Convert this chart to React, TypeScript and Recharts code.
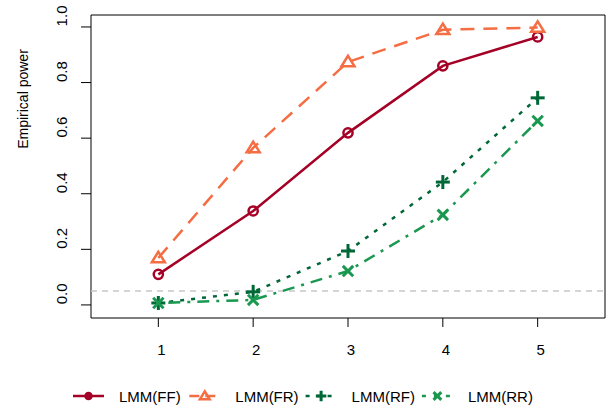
import React from 'react';
import { ComposedChart, Line, XAxis, YAxis, ReferenceLine, ReferenceArea } from 'recharts';

const sampleSizes = [1, 2, 3, 4, 5];
const powerFF = [0.11, 0.338, 0.619, 0.86, 0.964];
const powerFR = [0.169, 0.565, 0.874, 0.99, 0.998];
const powerRF = [0.007, 0.047, 0.194, 0.442, 0.745];
const powerRR = [0.007, 0.018, 0.122, 0.324, 0.662];
const yTicks = [0, 0.2, 0.4, 0.6, 0.8, 1.0];
const xTicks = [1, 2, 3, 4, 5];
const nominalLevel = 0.05;

const seriesNames = ['LMM(FF)', 'LMM(FR)', 'LMM(RF)', 'LMM(RR)'];
const seriesKeys = ['ff', 'fr', 'rf', 'rr'];
const seriesColors = ['#A50026', '#F46D43', '#006837', '#1A9850'];
const seriesDash = ['0', '14 9', '4 7', '3 7 12 7'];
const seriesShapes = ['circle', 'triangle', 'plus', 'cross'];

const data = sampleSizes.map((n, i) => ({
  n,
  ff: powerFF[i],
  fr: powerFR[i],
  rf: powerRF[i],
  rr: powerRR[i],
}));

const FONT = '"Liberation Sans", Arial, Helvetica, sans-serif';

function Marker({ shape, cx, cy, color, size = 1, legend = false }: any) {
  const sw = 2.5;
  if (shape === 'circle') {
    return legend ? (
      <circle cx={cx} cy={cy} r={3.5} fill={color} stroke={color} strokeWidth={1.5} />
    ) : (
      <circle cx={cx} cy={cy} r={4.6 * size} fill="none" stroke={color} strokeWidth={sw} />
    );
  }
  if (shape === 'triangle') {
    const h = 6.2 * size;
    const pts = `${cx},${cy - h} ${cx - h * 1.05},${cy + h * 0.7} ${cx + h * 1.05},${cy + h * 0.7}`;
    return <polygon points={pts} fill="none" stroke={color} strokeWidth={sw} strokeLinejoin="miter" />;
  }
  if (shape === 'plus') {
    const a = 7 * size;
    return (
      <g stroke={color} strokeWidth={sw + 0.5}>
        <line x1={cx - a} y1={cy} x2={cx + a} y2={cy} />
        <line x1={cx} y1={cy - a} x2={cx} y2={cy + a} />
      </g>
    );
  }
  const a = 5.2 * size;
  return (
    <g stroke={color} strokeWidth={sw + 0.5}>
      <line x1={cx - a} y1={cy - a} x2={cx + a} y2={cy + a} />
      <line x1={cx - a} y1={cy + a} x2={cx + a} y2={cy - a} />
    </g>
  );
}

const makeDot = (shape: string, color: string) => (props: any) => {
  const { cx, cy, index } = props;
  if (cx == null || cy == null) return <g key={index} />;
  return <Marker key={index} shape={shape} cx={cx} cy={cy} color={color} />;
};

const XTick = (props: any) => {
  const { x, payload } = props;
  return (
    <text x={x + 3} y={355} textAnchor="middle" fontSize={15} fontFamily={FONT} fill="#000">
      {payload.value}
    </text>
  );
};

const YTick = (props: any) => {
  const { y, payload } = props;
  return (
    <text
      transform={`translate(67, ${y - 11}) rotate(-90)`}
      textAnchor="middle"
      fontSize={15}
      fontFamily={FONT}
      fill="#000"
    >
      {Number(payload.value).toFixed(1)}
    </text>
  );
};

const YLabel = () => (
  <text
    transform={`translate(28, 99) rotate(-90)`}
    textAnchor="middle"
    fontSize={14}
    fontFamily={FONT}
    fill="#000"
  >
    Empirical power
  </text>
);

function LegendRow() {
  return (
    <svg width={606} height={34} style={{ position: 'absolute', left: 0, top: 380 }}>
      {seriesNames.map((name, i) => {
        const x0 = 73 + i * 116.3;
        const y = 16;
        return (
          <g key={name}>
            <line
              x1={x0}
              y1={y}
              x2={x0 + 31}
              y2={y}
              stroke={seriesColors[i]}
              strokeWidth={2.5}
              strokeDasharray={i === 0 ? undefined : i === 1 ? '10 6' : i === 2 ? '4 7' : '4 8'}
            />
            <Marker shape={seriesShapes[i]} cx={x0 + 15.5} cy={y} color={seriesColors[i]} size={0.75} legend />
            <text x={x0 + 46} y={y + 5.5} fontSize={15} fontFamily={FONT} fill="#000">
              {name}
            </text>
          </g>
        );
      })}
    </svg>
  );
}

export default function App() {
  return (
    <div style={{ position: 'absolute', left: 0, top: 0, width: 606, height: 414, background: '#fff' }}>
      <ComposedChart width={606} height={414} data={data} margin={{ top: 15, right: 1, bottom: 0, left: 0 }}>
        <XAxis
          dataKey="n"
          type="number"
          domain={[0.29, 5.71]}
          ticks={xTicks}
          allowDataOverflow
          axisLine={false}
          tickLine={{ stroke: '#000', strokeWidth: 1 }}
          tickSize={9}
          height={96}
          tick={<XTick />}
        />
        <YAxis
          type="number"
          domain={[-0.047, 1.043]}
          ticks={yTicks}
          allowDataOverflow
          axisLine={false}
          tickLine={{ stroke: '#000', strokeWidth: 1 }}
          tickSize={10}
          width={91}
          tick={<YTick />}
          label={<YLabel />}
        />
        <ReferenceArea
          x1={0.29}
          x2={5.71}
          y1={-0.047}
          y2={1.043}
          fill="none"
          fillOpacity={0}
          stroke="#000"
          strokeWidth={1}
          ifOverflow="visible"
        />
        <ReferenceLine y={nominalLevel} stroke="#C8C8C8" strokeWidth={1.5} strokeDasharray="6 5" />
        {seriesKeys.map((k, i) => (
          <Line
            key={k}
            dataKey={k}
            type="linear"
            stroke={seriesColors[i]}
            strokeWidth={2.5}
            strokeDasharray={seriesDash[i] === '0' ? undefined : seriesDash[i]}
            dot={makeDot(seriesShapes[i], seriesColors[i])}
            activeDot={false}
            isAnimationActive={false}
          />
        ))}
      </ComposedChart>
      <LegendRow />
    </div>
  );
}
